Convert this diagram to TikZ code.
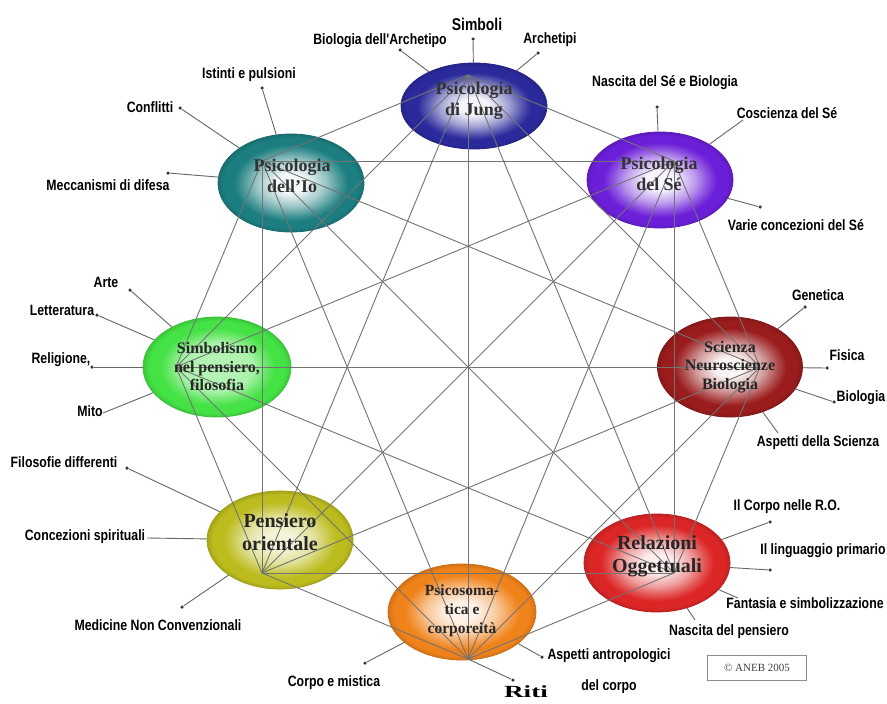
\documentclass[tikz,border=0pt]{standalone}
\usepackage{fontspec}
\setmainfont{Liberation Serif}
\newfontfamily\labf{Liberation Sans}[FakeStretch=0.82]
\usetikzlibrary{shapes.geometric}
\definecolor{cJung}{HTML}{2A2A9C}
\definecolor{cSe}{HTML}{6C1FD8}
\definecolor{cIo}{HTML}{1C7E80}
\definecolor{cSimb}{HTML}{44E244}
\definecolor{cSci}{HTML}{9A1C1C}
\definecolor{cPens}{HTML}{BCBC1E}
\definecolor{cRel}{HTML}{DC2626}
\definecolor{cPsi}{HTML}{F0821A}
\newcommand\mkshade[3]{\pgfdeclareradialshading{#1}{\pgfpoint{0bp}{0bp}}{color(0bp)=(#2!#3!white); color(5bp)=(#2!#3!white); color(12bp)=(#2!45!white); color(16.5bp)=(#2!80!white); color(19.5bp)=(#2); color(23bp)=(#2); color(25bp)=(#2!88!black); color(50bp)=(#2!88!black)}}
\mkshade{shJung}{cJung}{5}
\mkshade{shSe}{cSe}{5}
\mkshade{shIo}{cIo}{5}
\mkshade{shSimb}{cSimb}{40}
\mkshade{shSci}{cSci}{5}
\mkshade{shPens}{cPens}{18}
\mkshade{shRel}{cRel}{8}
\mkshade{shPsi}{cPsi}{10}
\tikzset{
  ell/.style={ellipse, inner sep=0pt, shade, line width=0.8pt},
  etxt/.style={font=\bfseries\fontsize{18}{21}\selectfont, align=center, text=black!80, inner sep=0pt},
  stxt/.style={font=\bfseries\fontsize{16}{18.5}\selectfont, align=center, text=black!85, inner sep=0pt},
  btxt/.style={font=\bfseries\fontsize{20}{23}\selectfont, align=center, text=black!85, inner sep=0pt},
  lab/.style={font=\labf\bfseries\fontsize{15}{17}\selectfont, text=black, inner sep=0pt, align=center},
  link/.style={draw=black!55, line width=0.9pt},
  spoke/.style={draw=black!60, line width=0.9pt},
  dotm/.style={circle, fill=black!80, inner sep=0pt, minimum size=3.5pt}
}
\begin{document}
\begin{tikzpicture}[x=1pt,y=-1pt]
\useasboundingbox (0,0) rectangle (887,704);
\fill[white] (0,0) rectangle (887,704);
% ellipses
\node[ell, shading=shJung, draw=cJung!85!black, minimum width=146pt, minimum height=86pt] (jung) at (474,106) {};
\node[ell, shading=shSe, draw=cSe!85!black, minimum width=146pt, minimum height=96pt] (se) at (660,180) {};
\node[ell, shading=shIo, draw=cIo!85!black, minimum width=146pt, minimum height=98pt] (io) at (291,183) {};
\node[ell, shading=shSimb, draw=cSimb!85!black, minimum width=148pt, minimum height=100pt] (simb) at (217,367) {};
\node[ell, shading=shSci, draw=cSci!85!black, minimum width=145pt, minimum height=100pt] (sci) at (730,367) {};
\node[ell, shading=shPens, draw=cPens!85!black, minimum width=146pt, minimum height=98pt] (pens) at (280,540) {};
\node[ell, shading=shRel, draw=cRel!85!black, minimum width=146pt, minimum height=98pt] (rel) at (657,563) {};
\node[ell, shading=shPsi, draw=cPsi!85!black, minimum width=148pt, minimum height=96pt] (psi) at (462,612) {};
% hubs
\coordinate (h1) at (468,75);
\coordinate (h2) at (674,161);
\coordinate (h3) at (760,367);
\coordinate (h4) at (674,573);
\coordinate (h5) at (468,659);
\coordinate (h6) at (262,573);
\coordinate (h7) at (176,367);
\coordinate (h8) at (262,161);
\foreach \i in {1,...,7}{
  \pgfmathtruncatemacro\s{\i+1}
  \foreach \j in {\s,...,8}{\draw[link] (h\i) -- (h\j);}
}
% ellipse texts
\node[etxt] (tJung) at (474,101) {Psicologia\\di Jung};
\node[etxt] (tSe) at (659,174) {Psicologia\\del Sé};
\node[etxt] (tIo) at (292,176) {Psicologia\\dell'Io};
\node[stxt] (tSimb) at (217,367) {Simbolismo\\nel pensiero,\\filosofia};
\node[stxt] (tSci) at (730,367) {Scienza\\Neuroscienze\\Biologia};
\node[btxt] (tPens) at (280,532) {Pensiero\\orientale};
\node[btxt] (tRel) at (657,556) {Relazioni\\Oggettuali};
\node[stxt, font=\bfseries\fontsize{15.5}{19}\selectfont] (tPsi) at (462,611) {Psicosoma-\\tica e\\corporeità};
% dots and free ends
\node[dotm] (dSimboli) at (473,39) {};
\node[dotm] (dBioArch) at (400,50) {};
\node[dotm] (dArch) at (538,53) {};
\node[dotm] (dNascSe) at (657,107) {};
\coordinate (dCosc) at (743,120);
\node[dotm] (dVarie) at (760,207) {};
\node[dotm] (dIst) at (262,88) {};
\node[dotm] (dConf) at (180,108) {};
\node[dotm] (dMecc) at (168,173) {};
\node[dotm] (dArte) at (130,290) {};
\node[dotm] (dLett) at (97,315) {};
\node[dotm] (dRel) at (92,367) {};
\coordinate (dMito) at (103,413);
\node[dotm] (dGen) at (805,307) {};
\node[dotm] (dFis) at (827,368) {};
\node[dotm] (dBio) at (834,402) {};
\coordinate (dAspSci) at (778,433);
\node[dotm] (dFilo) at (127,468) {};
\coordinate (dConc) at (147,538);
\node[dotm] (dMed) at (182,607) {};
\node[dotm] (dCorpo) at (365,663) {};
\node[dotm] (dRiti) at (513,680) {};
\node[dotm] (dAntr) at (542,657) {};
\node[dotm] (dCorpoRO) at (770,522) {};
\node[dotm] (dLing) at (770,570) {};
\coordinate (dFant) at (738,598);
\coordinate (dNascP) at (695,620);
% spokes
\draw[spoke] (jung) -- (dSimboli);
\draw[spoke] (jung) -- (dBioArch);
\draw[spoke] (jung) -- (dArch);
\draw[spoke] (se) -- (dNascSe);
\draw[spoke] (se) -- (dCosc);
\draw[spoke] (se) -- (dVarie);
\draw[spoke] (io) -- (dIst);
\draw[spoke] (io) -- (dConf);
\draw[spoke] (io) -- (dMecc);
\draw[spoke] (simb) -- (dArte);
\draw[spoke] (simb) -- (dLett);
\draw[spoke] (simb) -- (dRel);
\draw[spoke] (simb) -- (dMito);
\draw[spoke] (sci) -- (dGen);
\draw[spoke] (sci) -- (dFis);
\draw[spoke] (sci) -- (dBio);
\draw[spoke] (sci) -- (dAspSci);
\draw[spoke] (pens) -- (dFilo);
\draw[spoke] (pens) -- (dConc);
\draw[spoke] (pens) -- (dMed);
\draw[spoke] (psi) -- (dCorpo);
\draw[spoke] (h5) -- (dRiti);
\draw[spoke] (psi) -- (dAntr);
\draw[spoke] (rel) -- (dCorpoRO);
\draw[spoke] (rel) -- (dLing);
\draw[spoke] (rel) -- (dFant);
\draw[spoke] (rel) -- (dNascP);
% labels
\node[lab, font=\labf\bfseries\fontsize{17}{19}\selectfont] (lSimboli) at (477,24) {Simboli};
\node[lab] (lBioArch) at (380,41) {Biologia dell'Archetipo};
\node[lab] (lArch) at (550,40) {Archetipi};
\node[lab] (lNascSe) at (665,83) {Nascita del Sé e Biologia};
\node[lab] (lCosc) at (787,113) {Coscienza del Sé};
\node[lab] (lVarie) at (796,225) {Varie concezioni del Sé};
\node[lab] (lIst) at (249,75) {Istinti e pulsioni};
\node[lab] (lConf) at (150,107) {Conflitti};
\node[lab] (lMecc) at (108,185) {Meccanismi di difesa};
\node[lab] (lArte) at (106,282) {Arte};
\node[lab] (lLett) at (62,310) {Letteratura};
\node[lab] (lRel) at (61,360) {Religione,};
\node[lab] (lMito) at (90,411) {Mito};
\node[lab] (lGen) at (818,295) {Genetica};
\node[lab] (lFis) at (847,355) {Fisica};
\node[lab] (lBio) at (861,398) {Biologia};
\node[lab] (lAspSci) at (818,443) {Aspetti della Scienza};
\node[lab] (lFilo) at (64,462) {Filosofie differenti};
\node[lab] (lConc) at (85,537) {Concezioni spirituali};
\node[lab] (lMed) at (158,625) {Medicine Non Convenzionali};
\node[lab] (lCorpo) at (334,683) {Corpo e mistica};
\node[font=\bfseries\fontsize{17}{19}\selectfont, inner sep=0pt] (lRiti) at (526,692) {\scalebox{1.6}[1]{Riti}};
\node[lab] (lAntr) at (609,671) {Aspetti antropologici\\[14pt]del corpo};
\node[lab] (lCorpoRO) at (787,507) {Il Corpo nelle R.O.};
\node[lab] (lLing) at (823,551) {Il linguaggio primario};
\node[lab] (lFant) at (805,603) {Fantasia e simbolizzazione};
\node[lab] (lNascP) at (729,632) {Nascita del pensiero};
\node[draw=black!45, font=\fontsize{11}{13}\selectfont, text=black!75, minimum width=99pt, minimum height=25pt, inner sep=0pt] (copy) at (757,668) {© ANEB 2005};
\end{tikzpicture}
\end{document}
